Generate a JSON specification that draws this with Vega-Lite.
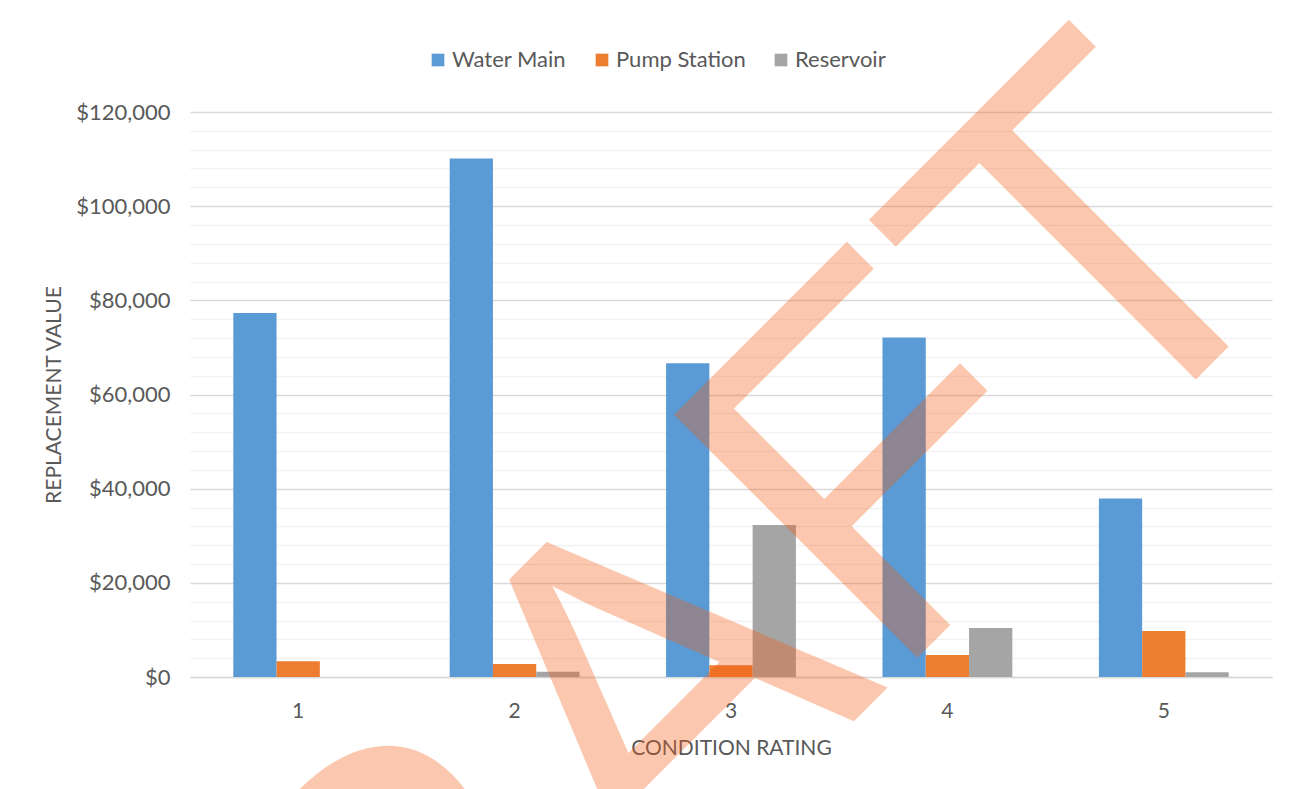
{
  "$schema": "https://vega.github.io/schema/vega-lite/v6.json",
  "width": 1082,
  "height": 565,
  "autosize": {"type": "none"},
  "padding": {"left": 190, "top": 112, "right": 37, "bottom": 112},
  "background": "white",
  "config": {
    "view": {"stroke": null},
    "font": "Lato",
    "axis": {"labelFont": "Lato", "titleFont": "Lato", "labelColor": "#595959", "titleColor": "#595959"},
    "legend": {"labelFont": "Lato", "labelColor": "#595959"}
  },
  "layer": [
    {
      "data": {
        "values": [
          {"rating": "1", "series": "Water Main", "value": 77300},
          {"rating": "1", "series": "Pump Station", "value": 3320},
          {"rating": "1", "series": "Reservoir", "value": 0},
          {"rating": "2", "series": "Water Main", "value": 110100},
          {"rating": "2", "series": "Pump Station", "value": 2770},
          {"rating": "2", "series": "Reservoir", "value": 1130},
          {"rating": "3", "series": "Water Main", "value": 66640},
          {"rating": "3", "series": "Pump Station", "value": 2490},
          {"rating": "3", "series": "Reservoir", "value": 32270},
          {"rating": "4", "series": "Water Main", "value": 72100},
          {"rating": "4", "series": "Pump Station", "value": 4680},
          {"rating": "4", "series": "Reservoir", "value": 10420},
          {"rating": "5", "series": "Water Main", "value": 37930},
          {"rating": "5", "series": "Pump Station", "value": 9780},
          {"rating": "5", "series": "Reservoir", "value": 1000}
        ]
      },
      "mark": {"type": "bar"},
      "encoding": {
        "x": {
          "field": "rating",
          "type": "nominal",
          "sort": ["1", "2", "3", "4", "5"],
          "scale": {"paddingInner": 0.4, "paddingOuter": 0.2},
          "axis": {
            "title": "CONDITION RATING",
            "labelAngle": 0,
            "labelFontSize": 21,
            "labelPadding": 23,
            "ticks": false,
            "domainColor": "#d9d9d9",
            "domainWidth": 1.5,
            "titleFontSize": 21,
            "titleFontWeight": "normal",
            "titlePadding": 16
          }
        },
        "xOffset": {
          "field": "series",
          "type": "nominal",
          "sort": ["Water Main", "Pump Station", "Reservoir"],
          "scale": {"paddingInner": 0, "paddingOuter": 0}
        },
        "y": {
          "field": "value",
          "type": "quantitative",
          "scale": {"domain": [0, 120000], "nice": false},
          "axis": {
            "title": "REPLACEMENT VALUE",
            "values": [0, 4000, 8000, 12000, 16000, 20000, 24000, 28000, 32000, 36000, 40000, 44000, 48000, 52000, 56000, 60000, 64000, 68000, 72000, 76000, 80000, 84000, 88000, 92000, 96000, 100000, 104000, 108000, 112000, 116000, 120000],
            "tickCount": 100,
            "labelExpr": "datum.value % 20000 === 0 ? '$' + format(datum.value, ',') : ''",
            "labelOverlap": false,
            "labelFontSize": 22,
            "labelPadding": 20,
            "ticks": false,
            "domain": false,
            "gridColor": {"condition": {"test": "datum.value % 20000 === 0", "value": "#d9d9d9"}, "value": "#f2f2f2"},
            "gridWidth": 1.3,
            "titleFontSize": 21,
            "titleFontWeight": "normal",
            "titlePadding": 11
          }
        },
        "color": {
          "field": "series",
          "type": "nominal",
          "sort": ["Water Main", "Pump Station", "Reservoir"],
          "scale": {"domain": ["Water Main", "Pump Station", "Reservoir"], "range": ["#5b9bd5", "#ed7d31", "#a5a5a5"]},
          "legend": {
            "title": null,
            "orient": "none",
            "direction": "horizontal",
            "legendX": 237,
            "legendY": -63,
            "symbolType": "square",
            "symbolSize": 160,
            "symbolStrokeWidth": 0,
            "labelFontSize": 22,
            "labelOffset": 3,
            "columnPadding": 24
          }
        }
      }
    },
    {
      "data": {"values": [{"watermark": "DRAFT"}]},
      "mark": {
        "type": "text",
        "font": "Liberation Sans",
        "fontSize": 500,
        "angle": -45,
        "align": "center",
        "baseline": "alphabetic",
        "color": "#f55b0f",
        "opacity": 0.33
      },
      "encoding": {
        "text": {"field": "watermark", "type": "nominal"},
        "x": {"datum": "3", "type": "nominal"},
        "y": {"datum": -35500, "type": "quantitative"}
      }
    }
  ]
}
